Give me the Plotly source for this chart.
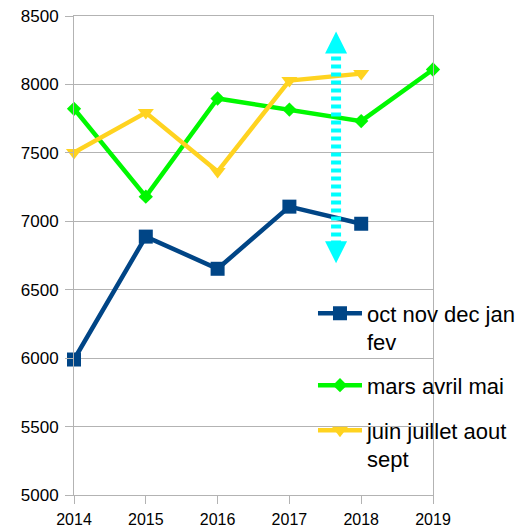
import plotly.graph_objects as go

years = [2014, 2015, 2016, 2017, 2018, 2019]
s1_name = "oct nov dec jan<br>fev"
s1_years = [2014, 2015, 2016, 2017, 2018]
s1_vals = [5990, 6888, 6653, 7107, 6982]
s2_name = "mars avril mai"
s2_years = [2014, 2015, 2016, 2017, 2018, 2019]
s2_vals = [7822, 7180, 7897, 7816, 7732, 8109]
s3_name = "juin juillet aout<br>sept"
s3_years = [2014, 2015, 2016, 2017, 2018]
s3_vals = [7502, 7794, 7363, 8028, 8079]
arrow_x = [2017.65, 2017.65]
arrow_tip_y = [6693, 8387]
arrow_shaft_y = [6830, 8250]
y_ticks = [5000, 5500, 6000, 6500, 7000, 7500, 8000, 8500]

FONT = "Liberation Sans, Arial, sans-serif"

fig = go.Figure()
fig.add_trace(go.Scatter(x=s1_years, y=s1_vals, name=s1_name, mode="lines+markers",
                         legend="legend", cliponaxis=False,
                         line=dict(color="#004586", width=4.5),
                         marker=dict(symbol="square", size=14, color="#004586")))
fig.add_trace(go.Scatter(x=s2_years, y=s2_vals, name=s2_name, mode="lines+markers",
                         legend="legend2", cliponaxis=False,
                         line=dict(color="#00f800", width=4.5),
                         marker=dict(symbol="diamond", size=11, color="#00f800")))
fig.add_trace(go.Scatter(x=s3_years, y=s3_vals, name=s3_name, mode="lines+markers",
                         legend="legend3", cliponaxis=False,
                         line=dict(color="#ffd320", width=4.5),
                         marker=dict(symbol="triangle-down", size=14, color="#ffd320")))
# cyan double arrow
fig.add_trace(go.Scatter(x=arrow_x, y=arrow_shaft_y, mode="lines", showlegend=False,
                         line=dict(color="#00ffff", width=10, dash="4px,4px"),
                         hoverinfo="skip"))
fig.add_trace(go.Scatter(x=arrow_x, y=arrow_tip_y, mode="markers", showlegend=False,
                         marker=dict(symbol=["arrow-down", "arrow-up"], size=22,
                                     color="#00ffff", line=dict(width=0)),
                         hoverinfo="skip"))

leg_common = dict(xanchor="left", yanchor="top", bgcolor="rgba(0,0,0,0)",
                  font=dict(size=22, family=FONT),
                  valign="top", itemwidth=44, x=0.6657)

fig.update_layout(
    width=515, height=519,
    margin=dict(l=66, r=90, t=8, b=32, autoexpand=False),
    paper_bgcolor="white", plot_bgcolor="white",
    font=dict(family=FONT, color="black"),
    legend=dict(y=0.423, **leg_common),
    legend2=dict(y=0.2727, **leg_common),
    legend3=dict(y=0.1787, **leg_common),
    xaxis=dict(range=[2014, 2019], tickvals=years, ticktext=[str(y) for y in years],
               showgrid=False, showline=True, mirror=True, linecolor="#b3b3b3",
               ticks="outside", ticklen=8, tickcolor="#b3b3b3",
               ticklabelstandoff=2, ticklabeloverflow="allow",
               tickfont=dict(size=16, family=FONT), zeroline=False),
    yaxis=dict(range=[5000, 8500], tickvals=y_ticks,
               showgrid=True, gridcolor="#b3b3b3", gridwidth=1,
               showline=True, mirror=True, linecolor="#b3b3b3",
               ticks="outside", ticklen=8, tickcolor="#b3b3b3",
               ticklabelstandoff=3, ticklabeloverflow="allow",
               tickfont=dict(size=17, family=FONT), zeroline=False),
    showlegend=True,
)

fig.write_html("out.html")
